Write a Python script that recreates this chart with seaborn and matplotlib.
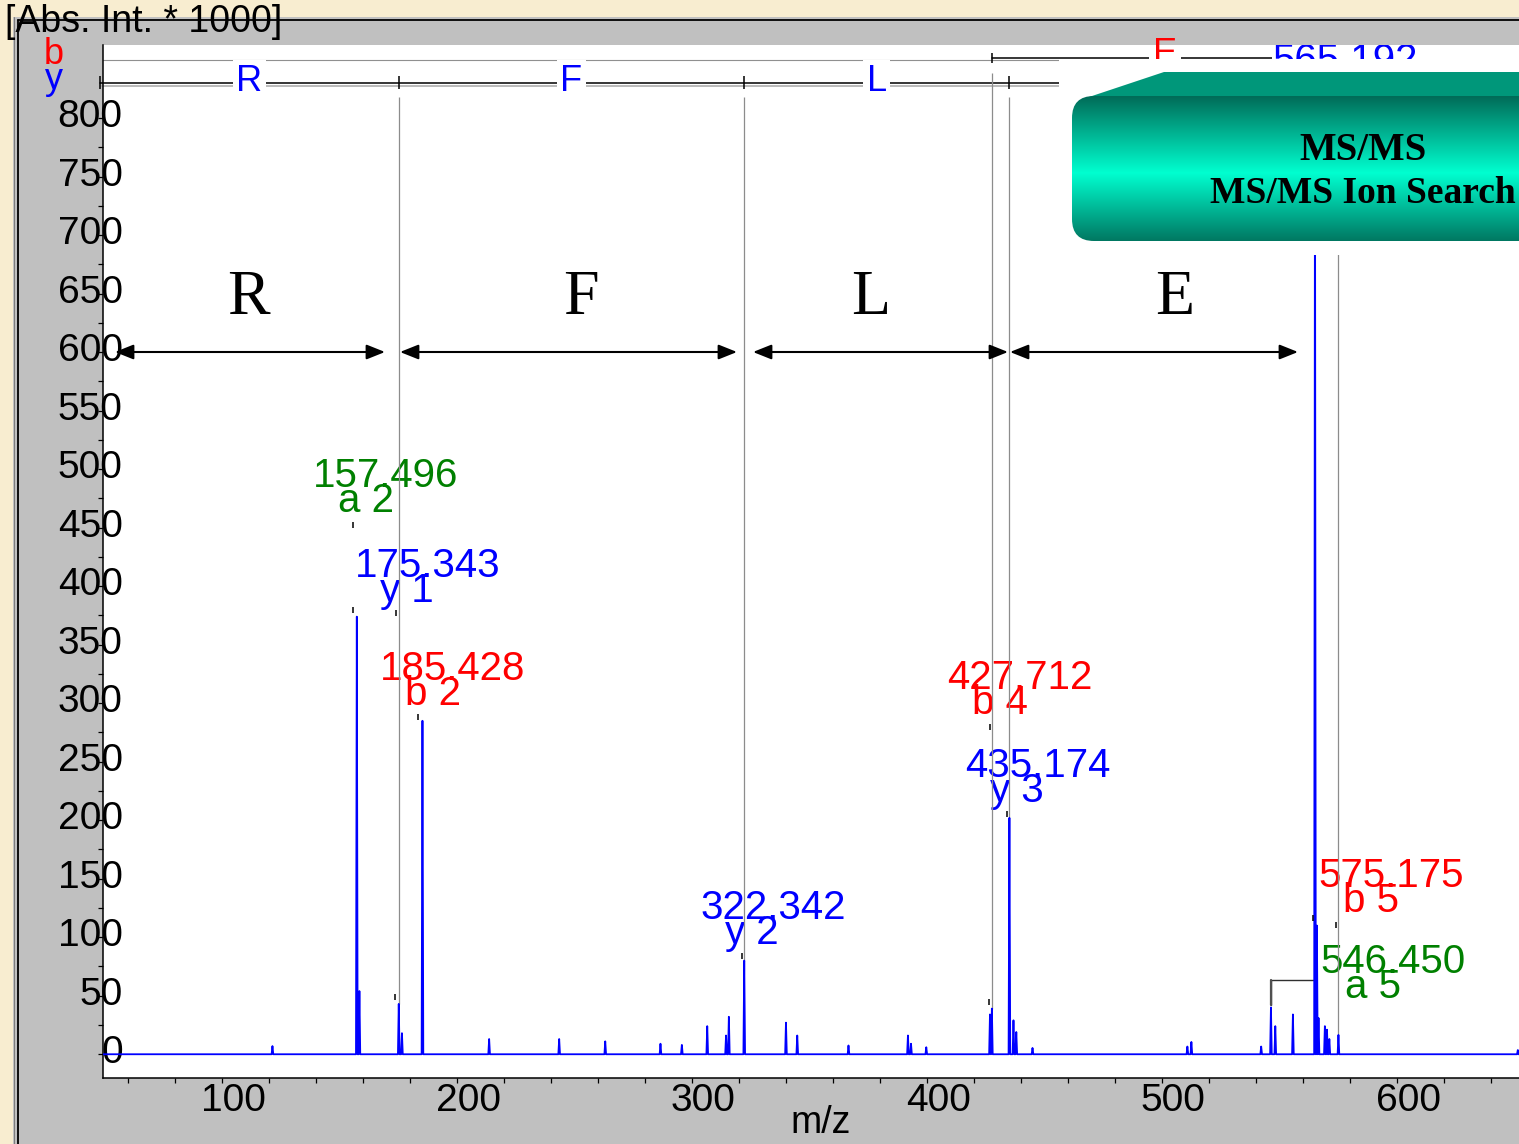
import numpy as np
import pandas as pd
import matplotlib
matplotlib.use("Agg")
import matplotlib.pyplot as plt
import seaborn as sns
from matplotlib.patches import Rectangle, Polygon, FancyBboxPatch, FancyArrowPatch
from matplotlib.ticker import FixedLocator
from matplotlib.transforms import ScaledTranslation

# ---- MS/MS peak list: m/z and absolute intensity (x1000) ----
peak_mz = [121.6, 157.496, 158.6, 175.343, 176.7, 185.428, 213.8, 243.6, 263.2,
           286.7, 295.8, 306.6, 314.6, 315.8, 322.342, 340.1, 344.9, 366.7,
           392.0, 393.3, 399.8, 426.9, 427.712, 435.174, 436.9, 438.1, 445.0,
           510.9, 512.6, 542.3, 546.450, 548.3, 555.8, 565.192, 566.0, 566.7,
           569.4, 570.3, 571.3, 575.175, 651.5]
peak_int = [7, 374, 54, 43, 18, 285, 13, 13, 11,
            9, 8, 24, 16, 32, 80, 27, 16, 7.5,
            16, 9, 6, 34, 39, 202, 29, 19, 5.4,
            6.6, 10.5, 6.6, 40, 24, 34, 805, 110, 31,
            24, 21, 13, 16.5, 3.6]

# ---- assigned fragment ions ----
ion_mz = [157.496, 175.343, 185.428, 322.342, 427.712, 435.174, 546.450, 565.192, 575.175]
ion_name = ["a 2", "y 1", "b 2", "y 2", "b 4", "y 3", "a 5", "y 4", "b 5"]
ion_type = ["a", "y", "b", "y", "b", "y", "a", "y", "b"]

# anchor point of each two-line label (m/z, intensity)
label_x = [156.4, 174.3, 184.9, 321.1, 426.2, 433.8, 584.9, 564.3, 584.0]
label_y = [453, 376.3, 288.3, 84.0, 280.6, 205.4, 37.9, 808, 111.4]

# small anchor marks of the labels
mark_x = [155.96, 155.96, 174.26, 173.8, 183.6, 321.4, 427.0, 426.6, 434.3, 564.5, 574.3]
mark_y = [452.4, 379.7, 377.2, 49.0, 288.3, 84.1, 279.7, 44.7, 205.4, 116.5, 110.5]

# ---- sequence ladders ----
y_ladder_mz = [48.1, 175.343, 322.342, 435.174, 565.192]
y_ladder_res = ["R", "F", "L", "E"]
b_ladder_mz = [427.712, 575.175]
b_ladder_res = ["E"]

# bracket between a 5 and the y 4 peak (m/z pair, leg bottom, bracket height)
bracket_mz = [546.450, 565.192]
bracket_int = [42.0, 63.5]

# residue spans written on the slide
span_res = ["R", "F", "L", "E"]

ION_COLORS = {"a": "#008000", "b": "#ff0000", "y": "#0000ff"}

W, H, DPI = 1519, 1144, 100
sns.set_style("white")
plt.rcParams["font.family"] = ["Liberation Sans", "DejaVu Sans"]
plt.rcParams["text.color"] = "black"
plt.rcParams["axes.labelcolor"] = "black"
plt.rcParams["xtick.color"] = "black"
plt.rcParams["ytick.color"] = "black"

fig = plt.figure(figsize=(W / DPI, H / DPI), dpi=DPI)
fig.patch.set_facecolor("#f8edd0")

# window background (pixel coordinates)
bg = fig.add_axes([0, 0, 1, 1], zorder=0)
bg.set_xlim(0, W); bg.set_ylim(H, 0); bg.axis("off")
bg.add_patch(Rectangle((13, 17), W, H, fc="#c0c0c0", ec="none"))
bg.plot([13.5, 13.5], [17, H], color="#7a7a7a", lw=0.7)
bg.plot([17.5, 17.5], [19.5, H], color="black", lw=1.3)
bg.plot([17.5, W], [19.5, 19.5], color="black", lw=1.3)

# ---- spectrum axes ----
ax = fig.add_axes([103 / W, 1 - 1078 / H, (W - 103) / W, (1078 - 45) / H], zorder=1)
ax.set_facecolor("white")
XMIN, XMAX = 49.5, 652.0
YMIN, YMAX = -20.3, 862.6

half_w = 0.35
xs, ys = [XMIN], [0.0]
for m, h in sorted(zip(peak_mz, peak_int)):
    xs += [m - half_w, m, m + half_w]
    ys += [0.0, h, 0.0]
xs.append(XMAX); ys.append(0.0)
profile = pd.DataFrame({"m/z": xs, "intensity": ys})
sns.lineplot(data=profile, x="m/z", y="intensity", sort=False, estimator=None,
             color="#0000ff", lw=1.3, ax=ax, zorder=4)

ax.set_xlim(XMIN, XMAX)
ax.set_ylim(YMIN, YMAX)

# guide lines from the ladders down to the matched peaks
Y_TOP, B_TOP = 818.0, 838.7
for m in y_ladder_mz[1:]:
    ax.vlines(m, peak_int[peak_mz.index(m)], Y_TOP, color="#8c8c8c", lw=0.9, zorder=2.5)
for m in b_ladder_mz:
    ax.vlines(m, peak_int[peak_mz.index(m)], B_TOP, color="#8c8c8c", lw=0.9, zorder=2.5)

# peak labels
for m, name, t, lx, ly in zip(ion_mz, ion_name, ion_type, label_x, label_y):
    c = ION_COLORS[t]
    ax.annotate(f"{m:.3f}", xy=(lx, ly), xytext=(-29.5, 26.6), textcoords="offset points",
                ha="left", va="baseline", fontsize=29, color=c, zorder=2.0, clip_on=True,
                bbox=dict(boxstyle="square,pad=0", fc="white", ec="none"))
    ax.annotate(name, xy=(lx, ly), xytext=(-11.5, 8.6), textcoords="offset points",
                ha="left", va="baseline", fontsize=29, color=c, zorder=2.1, clip_on=True)

ax.plot(mark_x, mark_y, ls="none", marker="|", ms=5, mew=1.1, color="black", zorder=5)

# water-loss bracket
ax.plot([bracket_mz[0], bracket_mz[0], bracket_mz[1]],
        [bracket_int[0], bracket_int[1], bracket_int[1]],
        color="#303030", lw=1.0, zorder=3)
ax.plot([bracket_mz[0]] * 2, bracket_int, color="#505050", lw=1.6, zorder=3)

# y-ion ladder
Y_LAD, B_LAD = 830.2, 851.5
ax.plot([y_ladder_mz[0], y_ladder_mz[-1]], [Y_LAD - 2.4] * 2, color="#a8a8a8", lw=1.1,
        clip_on=False, zorder=1.4)
ax.plot([y_ladder_mz[0], y_ladder_mz[-1]], [Y_LAD] * 2, color="black", lw=1.1,
        clip_on=False, zorder=1.5)
ax.vlines(y_ladder_mz, Y_LAD - 5.5, Y_LAD + 5.5, color="black", lw=1.1, clip_on=False, zorder=1.5)
for a, b, r in zip(y_ladder_mz[:-1], y_ladder_mz[1:], y_ladder_res):
    xm = (a + b) / 2
    ax.text(xm, 823.3, r, ha="center", va="baseline", fontsize=26, color="none",
            zorder=2.9, clip_on=True,
            bbox=dict(boxstyle="square,pad=0.1", fc="white", ec="none"))
    ax.text(xm, 823.3, r, ha="center", va="baseline", fontsize=26, color="#0000ff",
            zorder=3, clip_on=False)

# b-ion ladder
ax.plot([XMIN, XMAX], [B_LAD - 1.6] * 2, color="#909090", lw=0.8, zorder=1.4)
ax.plot([b_ladder_mz[0], b_ladder_mz[-1]], [B_LAD] * 2, color="black", lw=1.1, zorder=1.5)
ax.vlines(b_ladder_mz, B_LAD - 4.5, B_LAD + 4.5, color="black", lw=1.1, clip_on=False, zorder=1.5)
for a, b, r in zip(b_ladder_mz[:-1], b_ladder_mz[1:], b_ladder_res):
    xm = (a + b) / 2
    ax.text(xm, 846.4, r, ha="center", va="baseline", fontsize=26, color="none",
            zorder=2.9, clip_on=True,
            bbox=dict(boxstyle="square,pad=0.1", fc="white", ec="none"))
    ax.text(xm, 846.4, r, ha="center", va="baseline", fontsize=26, color="#ff0000",
            zorder=3, clip_on=False)

# axes styling
for s in ("top", "right"):
    ax.spines[s].set_visible(False)
for s in ("left", "bottom"):
    ax.spines[s].set_color("black")
    ax.spines[s].set_linewidth(1.1)
ax.xaxis.set_major_locator(FixedLocator([100, 200, 300, 400, 500, 600]))
ax.xaxis.set_minor_locator(FixedLocator(list(range(60, 641, 20))))
ax.yaxis.set_major_locator(FixedLocator(list(range(0, 801, 50))))
ax.yaxis.set_minor_locator(FixedLocator(list(range(25, 776, 50))))
ax.tick_params(which="both", direction="out", length=3.8, width=0.9, color="black",
               labelcolor="black", bottom=True, left=True)
ax.tick_params(axis="x", labelsize=28, pad=-0.5)
ax.tick_params(axis="y", labelsize=28, pad=0)
ax.set_ylabel("")
ax.set_xlabel("m/z", fontsize=27, va="top", color="black")
ax.xaxis.set_label_coords(0.507, -0.026)

offx = ScaledTranslation(11.5 / DPI, 0, fig.dpi_scale_trans)
for lab in ax.get_xticklabels():
    lab.set_transform(lab.get_transform() + offx)
offy = ScaledTranslation(25 / DPI, 5 / DPI, fig.dpi_scale_trans)
for lab in ax.get_yticklabels():
    lab.set_transform(lab.get_transform() + offy)

# ---- slide overlay (pixel coordinates) ----
ov = fig.add_axes([0, 0, 1, 1], zorder=10)
ov.axis("off")

ov.text(5, 32, "[Abs. Int. * 1000]", fontsize=27, ha="left", va="baseline", color="black")
ov.text(54, 64, "b", fontsize=26, ha="center", va="baseline", color="#ff0000")
ov.text(54, 89, "y", fontsize=26, ha="center", va="baseline", color="#0000ff")

# blank area behind the search banner
ov.add_patch(Rectangle((1059, 59.3), 600, 196, fc="white", ec="none", zorder=1))
ov.add_patch(Polygon([(1086, 98), (1164, 72), (1600, 72), (1600, 98)],
                     closed=True, fc="#00977a", ec="none", zorder=1.9))
stop_y = [96, 173, 241]
stop_c = np.array([[0, 108, 88], [0, 255, 208], [0, 120, 98]]) / 255.0
gy = np.arange(96, 242)
grad = np.stack([np.interp(gy, stop_y, stop_c[:, k]) for k in range(3)], axis=-1)[:, None, :]
im = ov.imshow(grad, extent=(1072, 1600, 241, 96), aspect="auto",
               interpolation="bilinear", zorder=2)
body = FancyBboxPatch((1072, 96), 560, 145, boxstyle="round,pad=0,rounding_size=22",
                      fc="none", ec="none", zorder=2)
ov.add_patch(body)
im.set_clip_path(body)
ov.text(1363, 160, "MS/MS", fontsize=28, fontweight="bold", family="Liberation Serif",
        ha="center", va="baseline", color="black", zorder=3)
ov.text(1363, 203, "MS/MS Ion Search", fontsize=27, fontweight="bold",
        family="Liberation Serif", ha="center", va="baseline", color="black", zorder=3)

# residue spans with double arrows
arrow_px = [(115, 385), (400, 737), (753, 1008), (1010, 1298)]
letter_px = [248, 581, 871, 1175]
for (x0, x1), lx, r in zip(arrow_px, letter_px, span_res):
    ov.add_patch(FancyArrowPatch((x0, 352), (x1, 352),
                                 arrowstyle="<|-|>,head_length=0.8,head_width=0.32",
                                 mutation_scale=14, lw=1.5, color="black",
                                 shrinkA=0, shrinkB=0, zorder=3))
    ov.text(lx, 314, r, fontsize=46, family="Liberation Serif", ha="center",
            va="baseline", color="black", zorder=3)

ov.set_xlim(0, W)
ov.set_ylim(H, 0)

fig.savefig("out.png", dpi=DPI, facecolor=fig.get_facecolor())
